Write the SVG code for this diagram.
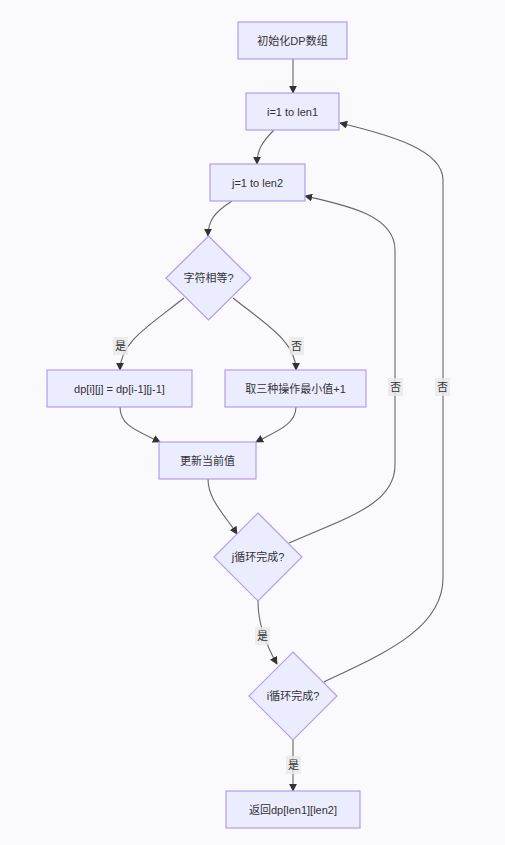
<svg xmlns="http://www.w3.org/2000/svg" width="505" height="845" viewBox="0 0 505 845">
<defs>
<marker id="arr" viewBox="0 0 10 10" refX="9" refY="5" markerWidth="8" markerHeight="8" markerUnits="userSpaceOnUse" orient="auto">
<path d="M0,0 L10,5 L0,10 z" fill="#333333"/>
</marker>
<style>
.node rect, .node polygon { fill: #ECECFF; stroke: #B39DEF; stroke-width: 1.2; }
.node text { font-family: "Liberation Sans", "Noto Sans CJK SC", sans-serif; font-size: 11px; fill: #333333; text-anchor: middle; }
.edges path { fill: none; stroke: #666666; stroke-width: 1.1; marker-end: url(#arr); }
.lbl rect { fill: #E8E8E8; opacity: 0.8; }
.lbl text { font-family: "Liberation Sans", "Noto Sans CJK SC", sans-serif; font-size: 11px; fill: #333333; text-anchor: middle; }
</style>
</defs>
<rect width="505" height="845" fill="#FAFAFC"/>
<g id="edges" class="edges">
<path d="M293,59 L293,93"/>
<path d="M274,130 C262,142 257,150 257,164"/>
<path d="M232,201 C215,212 208,220 208,236"/>
<path d="M184,298 C150,325 120,342 120,370"/>
<path d="M233,298 C267,325 296,342 296,370"/>
<path d="M120,407 C120,425 135,430 160,442"/>
<path d="M296,407 C296,425 275,432 256,442"/>
<path d="M208,479 C208,500 225,515 237,534"/>
<path d="M289,543 C345,518 395,505 395,465 L395,250 C395,215 345,205 305,196"/>
<path d="M258,601 C258,625 266,645 277,664"/>
<path d="M324,682 C380,655 443,630 443,578 L443,180 C443,150 390,135 340,123"/>
<path d="M293,740 L293,791"/>
</g>
<g id="labels">
<g class="lbl"><rect x="113" y="337" width="15" height="18"/><text x="120.5" y="350">是</text></g>
<g class="lbl"><rect x="289" y="337" width="15" height="18"/><text x="296.5" y="350">否</text></g>
<g class="lbl"><rect x="388" y="378" width="15" height="18"/><text x="395.5" y="391">否</text></g>
<g class="lbl"><rect x="435" y="378" width="15" height="18"/><text x="442.5" y="391">否</text></g>
<g class="lbl"><rect x="255" y="627" width="15" height="18"/><text x="262.5" y="640">是</text></g>
<g class="lbl"><rect x="286" y="756" width="15" height="18"/><text x="293.5" y="769">是</text></g>
</g>
<g id="nodeA" class="node"><rect x="238" y="22" width="109" height="37"/><text x="292.5" y="44.5">初始化DP数组</text></g>
<g id="nodeB" class="node"><rect x="246" y="93" width="93" height="37"/><text x="292.5" y="115.5">i=1 to len1</text></g>
<g id="nodeC" class="node"><rect x="210" y="164" width="95" height="37"/><text x="257.5" y="186.5">j=1 to len2</text></g>
<g id="nodeD" class="node"><polygon points="208.5,236 251,278 208.5,320 166,278"/><text x="208.5" y="282">字符相等?</text></g>
<g id="nodeE" class="node"><rect x="47" y="370" width="145" height="37"/><text x="119.5" y="392.5">dp[i][j] = dp[i-1][j-1]</text></g>
<g id="nodeF" class="node"><rect x="225" y="370" width="141" height="37"/><text x="295.5" y="392.5">取三种操作最小值+1</text></g>
<g id="nodeG" class="node"><rect x="159" y="442" width="97" height="37"/><text x="207.5" y="464.5">更新当前值</text></g>
<g id="nodeH" class="node"><polygon points="258,513 302,557 258,601 214,557"/><text x="258" y="561">j循环完成?</text></g>
<g id="nodeI" class="node"><polygon points="293,652 337,696 293,740 249,696"/><text x="293" y="700">i循环完成?</text></g>
<g id="nodeJ" class="node"><rect x="226" y="791" width="134" height="37"/><text x="293" y="813.5">返回dp[len1][len2]</text></g>
</svg>
